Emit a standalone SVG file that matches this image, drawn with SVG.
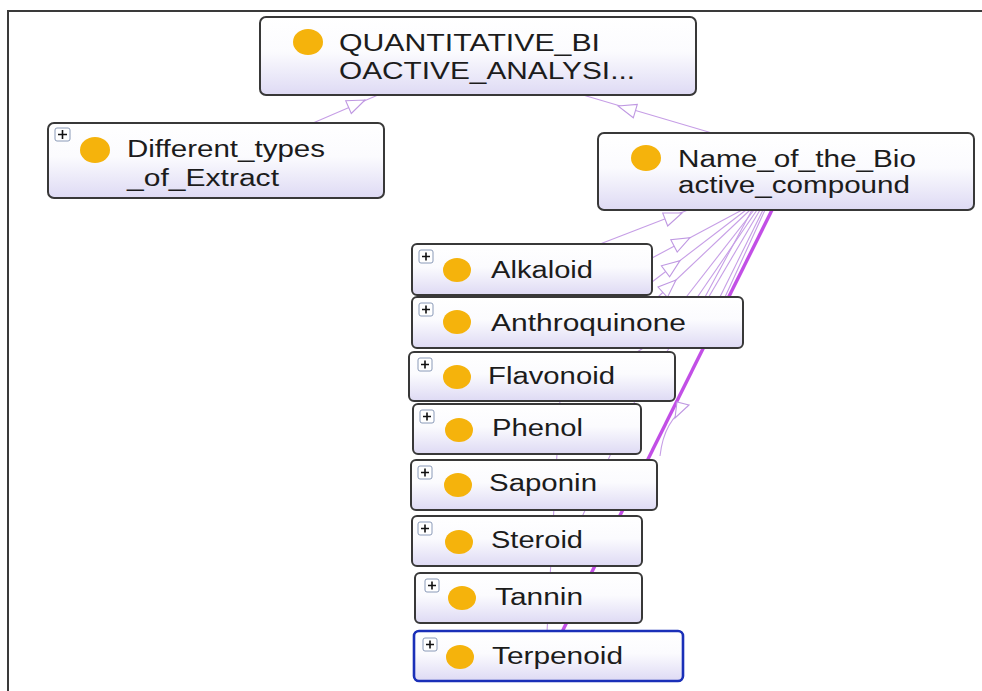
<svg xmlns="http://www.w3.org/2000/svg" width="982" height="691" viewBox="0 0 982 691">
<defs>
<linearGradient id="g" x1="0" y1="0" x2="0" y2="1">
<stop offset="0" stop-color="#ffffff"/>
<stop offset="0.45" stop-color="#fbfbfe"/>
<stop offset="1" stop-color="#dedaf4"/>
</linearGradient>
<style>
.box{fill:url(#g);stroke:#383838;stroke-width:2}
.sel{fill:url(#g);stroke:#1a2fb8;stroke-width:2.6}
.dot{fill:#f5b30c}
.t{font-family:"Liberation Sans",Arial,sans-serif;font-size:23.5px;fill:#1c1c1c}
.pb{fill:#fff;stroke:#8a9ab8;stroke-width:1}
.pl{stroke:#111;stroke-width:1.6}
.e{stroke:#c69ee6;stroke-width:1.1;fill:none}
.thick{stroke:#c24fe6;stroke-width:3.4;fill:none}
.ah{fill:#fff;stroke:#bf98e2;stroke-width:1.1}
</style>
</defs>
<rect width="982" height="691" fill="#fff"/>
<path d="M8 691 V11 H982" fill="none" stroke="#3a3a3a" stroke-width="2"/>

<g id="connectors">
<line class="e" x1="313" y1="123" x2="378" y2="95"/>
<polygon class="ah" points="365,100 351.3,113.5 345.7,100.7"/>
<line class="e" x1="583" y1="95" x2="712" y2="133"/>
<polygon class="ah" points="618,106 637.3,104.4 633.3,117.8"/>
<line class="e" x1="688" y1="210" x2="600" y2="244"/>
<polygon class="ah" points="682,213 667.7,226 662.7,213"/>
<line class="e" x1="742" y1="210" x2="652" y2="258"/>
<polygon class="ah" points="690,237.7 677.2,252.1 670.8,239.7"/>
<line class="e" x1="746" y1="210" x2="652" y2="282"/>
<polygon class="ah" points="680,260.6 669.6,276.9 661.4,265.7"/>
<line class="e" x1="750" y1="210" x2="658" y2="297"/>
<polygon class="ah" points="676,280 667.4,297.4 658,287"/>
<line class="e" x1="754" y1="210" x2="680" y2="305"/>
<line class="e" x1="757" y1="210" x2="692" y2="305"/>
<line class="e" x1="760" y1="210" x2="704" y2="305"/>
<line class="e" x1="763" y1="210" x2="716" y2="305"/>
<path class="e" d="M752 210 L705 297 L640 390 L582 517"/>
<path class="e" d="M765 210 L725 297 L560 400 L547 632"/>
<path class="e" d="M688 406 Q664 420 660 456"/>
<line class="thick" x1="772" y1="210" x2="562" y2="632"/>
<polygon class="ah" points="689,405 677,402 675,418"/>
</g>

<g id="n-quant">
<rect class="box" x="260" y="17" width="436" height="78" rx="6"/>
<ellipse class="dot" cx="308" cy="42" rx="15" ry="13"/>
<text class="t" x="339" y="51" textLength="261" lengthAdjust="spacingAndGlyphs">QUANTITATIVE_BI</text>
<text class="t" x="339" y="79" textLength="296" lengthAdjust="spacingAndGlyphs">OACTIVE_ANALYSI...</text>
</g>

<g id="n-diff">
<rect class="box" x="48" y="123" width="336" height="75" rx="6"/>
<rect class="pb" x="55" y="128" width="15" height="13" rx="2"/>
<path class="pl" d="M58 134.5h9M62.5 130v9"/>
<ellipse class="dot" cx="95" cy="150" rx="15" ry="13"/>
<text class="t" x="127" y="157" textLength="198" lengthAdjust="spacingAndGlyphs">Different_types</text>
<text class="t" x="127" y="186" textLength="152" lengthAdjust="spacingAndGlyphs">_of_Extract</text>
</g>

<g id="n-name">
<rect class="box" x="598" y="133" width="376" height="77" rx="6"/>
<ellipse class="dot" cx="646" cy="158" rx="15" ry="13"/>
<text class="t" x="678" y="167" textLength="238" lengthAdjust="spacingAndGlyphs">Name_of_the_Bio</text>
<text class="t" x="678" y="193" textLength="232" lengthAdjust="spacingAndGlyphs">active_compound</text>
</g>

<g id="n-alkaloid">
<rect class="box" x="412" y="244" width="240" height="51" rx="5"/>
<rect class="pb" x="419" y="250" width="14" height="13" rx="2"/>
<path class="pl" d="M422 256.5h8M426 252.5v8"/>
<ellipse class="dot" cx="457" cy="270" rx="14" ry="12"/>
<text class="t" x="491" y="278" textLength="102" lengthAdjust="spacingAndGlyphs">Alkaloid</text>
</g>

<g id="n-anthro">
<rect class="box" x="412" y="297" width="331" height="51" rx="5"/>
<rect class="pb" x="419" y="303" width="14" height="13" rx="2"/>
<path class="pl" d="M422 309.5h8M426 305.5v8"/>
<ellipse class="dot" cx="457" cy="322" rx="14" ry="12"/>
<text class="t" x="491" y="331" textLength="195" lengthAdjust="spacingAndGlyphs">Anthroquinone</text>
</g>

<g id="n-flavonoid">
<rect class="box" x="409" y="352" width="266" height="49" rx="5"/>
<rect class="pb" x="418" y="358" width="14" height="13" rx="2"/>
<path class="pl" d="M421 364.5h8M425 360.5v8"/>
<ellipse class="dot" cx="457" cy="377" rx="14" ry="12"/>
<text class="t" x="488" y="384" textLength="127" lengthAdjust="spacingAndGlyphs">Flavonoid</text>
</g>

<g id="n-phenol">
<rect class="box" x="413" y="404" width="228" height="50" rx="5"/>
<rect class="pb" x="420" y="410" width="14" height="13" rx="2"/>
<path class="pl" d="M423 416.5h8M427 412.5v8"/>
<ellipse class="dot" cx="459" cy="430" rx="14" ry="12"/>
<text class="t" x="492" y="436" textLength="91" lengthAdjust="spacingAndGlyphs">Phenol</text>
</g>

<g id="n-saponin">
<rect class="box" x="411" y="460" width="246" height="50" rx="5"/>
<rect class="pb" x="418" y="466" width="14" height="13" rx="2"/>
<path class="pl" d="M421 472.5h8M425 468.5v8"/>
<ellipse class="dot" cx="458" cy="485" rx="14" ry="12"/>
<text class="t" x="489" y="491" textLength="108" lengthAdjust="spacingAndGlyphs">Saponin</text>
</g>

<g id="n-steroid">
<rect class="box" x="412" y="516" width="230" height="50" rx="5"/>
<rect class="pb" x="418" y="522" width="14" height="13" rx="2"/>
<path class="pl" d="M421 528.5h8M425 524.5v8"/>
<ellipse class="dot" cx="459" cy="542" rx="14" ry="12"/>
<text class="t" x="491" y="548" textLength="92" lengthAdjust="spacingAndGlyphs">Steroid</text>
</g>

<g id="n-tannin">
<rect class="box" x="415" y="573" width="227" height="50" rx="5"/>
<rect class="pb" x="425" y="579" width="14" height="13" rx="2"/>
<path class="pl" d="M428 585.5h8M432 581.5v8"/>
<ellipse class="dot" cx="462" cy="598" rx="14" ry="12"/>
<text class="t" x="495" y="605" textLength="88" lengthAdjust="spacingAndGlyphs">Tannin</text>
</g>

<g id="n-terpenoid">
<rect class="sel" x="414" y="631" width="269" height="50" rx="5"/>
<rect class="pb" x="423" y="638" width="14" height="13" rx="2"/>
<path class="pl" d="M426 644.5h8M430 640.5v8"/>
<ellipse class="dot" cx="460" cy="657" rx="14" ry="12"/>
<text class="t" x="492" y="664" textLength="131" lengthAdjust="spacingAndGlyphs">Terpenoid</text>
</g>
</svg>
